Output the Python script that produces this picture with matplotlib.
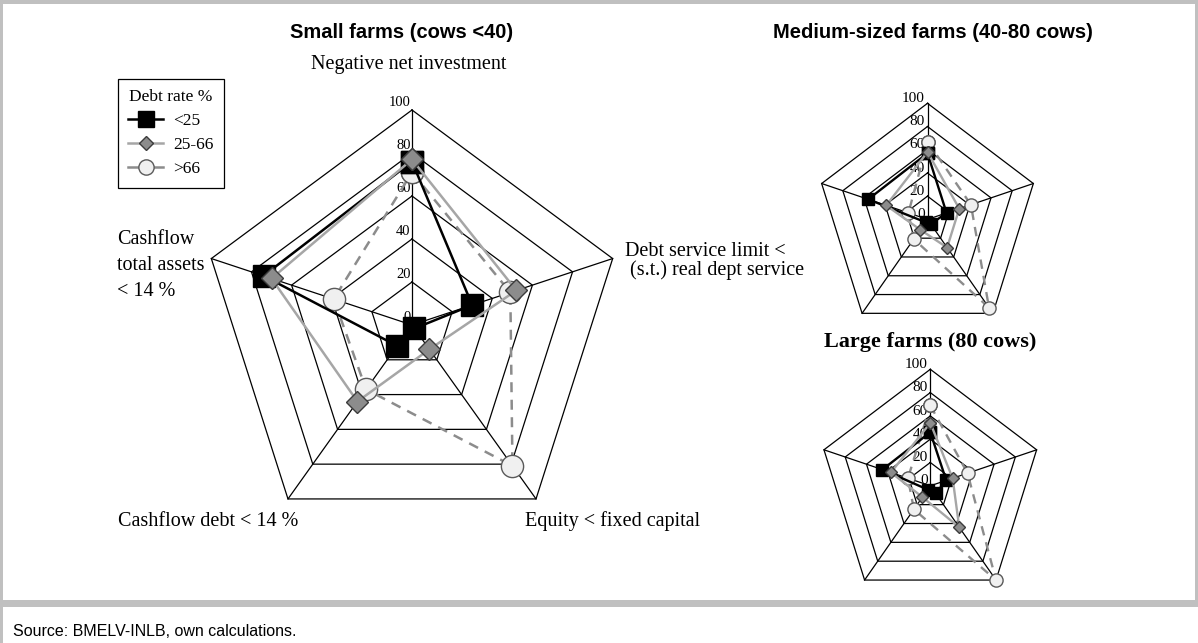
import numpy as np
import matplotlib.pyplot as plt
from matplotlib.lines import Line2D
from matplotlib.patches import Rectangle

# axes of the radar, clockwise from the top
categories = ["Negative net investment",
              ["Debt service limit <", " (s.t.) real dept service"],
              "Equity < fixed capital",
              "Cashflow debt < 14 %",
              ["Cashflow", "total assets", "< 14 %"]]
groups = ["<25", "25-66", ">66"]
ring_ticks = [0, 20, 40, 60, 80, 100]

# share of farms (%) per axis
small_lt25 = [76, 30, 2, 12, 74]
small_mid = [77, 52, 14, 44, 70]
small_gt66 = [71, 49, 81, 37, 39]

medium_lt25 = [57, 18, 5, 3, 56]
medium_mid = [58, 30, 30, 11, 39]
medium_gt66 = [67, 41, 94, 21, 18]

large_lt25 = [46, 15, 8, 4, 45]
large_mid = [54, 21, 44, 12, 37]
large_gt66 = [69, 35, 100, 25, 21]

W, H = 1198, 643
SERIF = "Liberation Serif"
SANS = "Liberation Sans"

styles = {
    "<25": dict(color="black", marker="s", mfc="black", mec="black", ls="-", zorder=4),
    "25-66": dict(color="#a6a6a6", marker="D", mfc="#8c8c8c", mec="#3c3c3c", ls="-", zorder=5),
    ">66": dict(color="#8c8c8c", marker="o", mfc="#f0f0f0", mec="#5a5a5a", ls=(0, (4, 3)), zorder=3),
}


def fx(x):
    return x / W


def fy(y):
    return 1 - y / H


def radar(cx, cy, rx, ry, data, msizes, lw, tick_fs, tick_off):
    ax = fig.add_axes([fx(cx - rx), fy(cy + ry), 2 * rx / W, 2 * ry / H], projection="polar")
    ax.set_aspect("auto")
    ax.set_theta_zero_location("N")
    ax.set_theta_direction(-1)
    ax.set_ylim(0, 100)
    ax.grid(False)
    ax.set_xticks([])
    ax.set_yticks([])
    ax.spines["polar"].set_visible(False)
    ax.patch.set_visible(False)

    theta = np.deg2rad(np.arange(5) * 72)
    tc = np.append(theta, theta[0])
    for r in ring_ticks[1:]:
        ax.plot(tc, [r] * 6, color="black", lw=0.9, zorder=1, clip_on=False)
    for t in theta:
        ax.plot([t, t], [0, 100], color="black", lw=0.9, zorder=1, clip_on=False)
    for r in ring_ticks:
        ax.annotate(str(r), (0, r), xytext=tick_off, textcoords="offset points",
                    ha="right", va="center", fontsize=tick_fs, family=SERIF,
                    annotation_clip=False, zorder=2)

    for g, vals in zip(groups, data):
        st = dict(styles[g])
        ax.plot(tc, vals + vals[:1], lw=lw, ms=msizes[g], clip_on=False, **st)
    return ax


fig = plt.figure(figsize=(W / 100, H / 100), dpi=100)
fig.patch.set_facecolor("white")

# frame
grey = "#c0c0c0"
fig.add_artist(Rectangle((0, fy(4)), 1, 4 / H, transform=fig.transFigure, color=grey, lw=0))
fig.add_artist(Rectangle((0, 0), 3 / W, 1, transform=fig.transFigure, color=grey, lw=0))
fig.add_artist(Rectangle((fx(1195), fy(607)), 3 / W, 607 / H, transform=fig.transFigure, color=grey, lw=0))
fig.add_artist(Rectangle((0, fy(607)), 1, 7 / H, transform=fig.transFigure, color=grey, lw=0))

# small farms (main chart)
radar(412, 325, 211, 215, [small_lt25, small_mid, small_gt66],
      {"<25": 16.5, "25-66": 11, ">66": 16}, 1.8, 10.5, (-1, 5.5))
# medium-sized farms
radar(927.5, 219.4, 111.3, 116.1, [medium_lt25, medium_mid, medium_gt66],
      {"<25": 8.5, "25-66": 6.5, ">66": 9.5}, 1.7, 11, (-2, 3.5))
# large farms
radar(930.3, 485.8, 111.8, 116.5, [large_lt25, large_mid, large_gt66],
      {"<25": 8.5, "25-66": 6.5, ">66": 9.5}, 1.7, 11, (-2, 3.5))

# titles
fig.text(fx(402), fy(33), "Small farms (cows <40)", family=SANS, weight="bold",
         fontsize=14.5, ha="center", va="center")
fig.text(fx(933), fy(32), "Medium-sized farms (40-80 cows)", family=SANS, weight="bold",
         fontsize=14.5, ha="center", va="center")
fig.text(fx(930), fy(342), "Large farms (80 cows)", family=SERIF, weight="bold",
         fontsize=16, ha="center", va="center")

# category labels of the main chart
lab = dict(family=SERIF, fontsize=14.5, va="center")
fig.text(fx(409), fy(64), categories[0], ha="center", **lab)
for line, y in zip(categories[1], [251, 270]):
    fig.text(fx(625), fy(y), line, ha="left", **lab)
fig.text(fx(525), fy(521), categories[2], ha="left", **lab)
fig.text(fx(118), fy(521), categories[3], ha="left", **lab)
for line, y in zip(categories[4], [240, 265, 291]):
    fig.text(fx(117), fy(y), line, ha="left", **lab)

# legend
handles = []
for g, ms in zip(groups, [11, 7.5, 11]):
    st = dict(styles[g])
    st.pop("zorder")
    st["ls"] = "-"
    handles.append(Line2D([], [], lw=1.8, ms=ms, **st))
leg = fig.legend(handles, groups, loc="upper left", bbox_to_anchor=(fx(118), fy(79)),
                 borderaxespad=0, title="Debt rate %", fancybox=False, framealpha=1,
                 edgecolor="black", handlelength=2.0, handletextpad=0.6,
                 labelspacing=0.45, borderpad=0.6,
                 prop={"family": SERIF, "size": 12.5},
                 title_fontproperties={"family": SERIF, "size": 12.5})
leg.get_frame().set_linewidth(0.9)

fig.text(fx(13), fy(632), "Source: BMELV-INLB, own calculations.",
         family=["Liberation Sans Narrow", SANS], fontsize=11.5, ha="left", va="center")

fig.savefig("out.png", dpi=100)
